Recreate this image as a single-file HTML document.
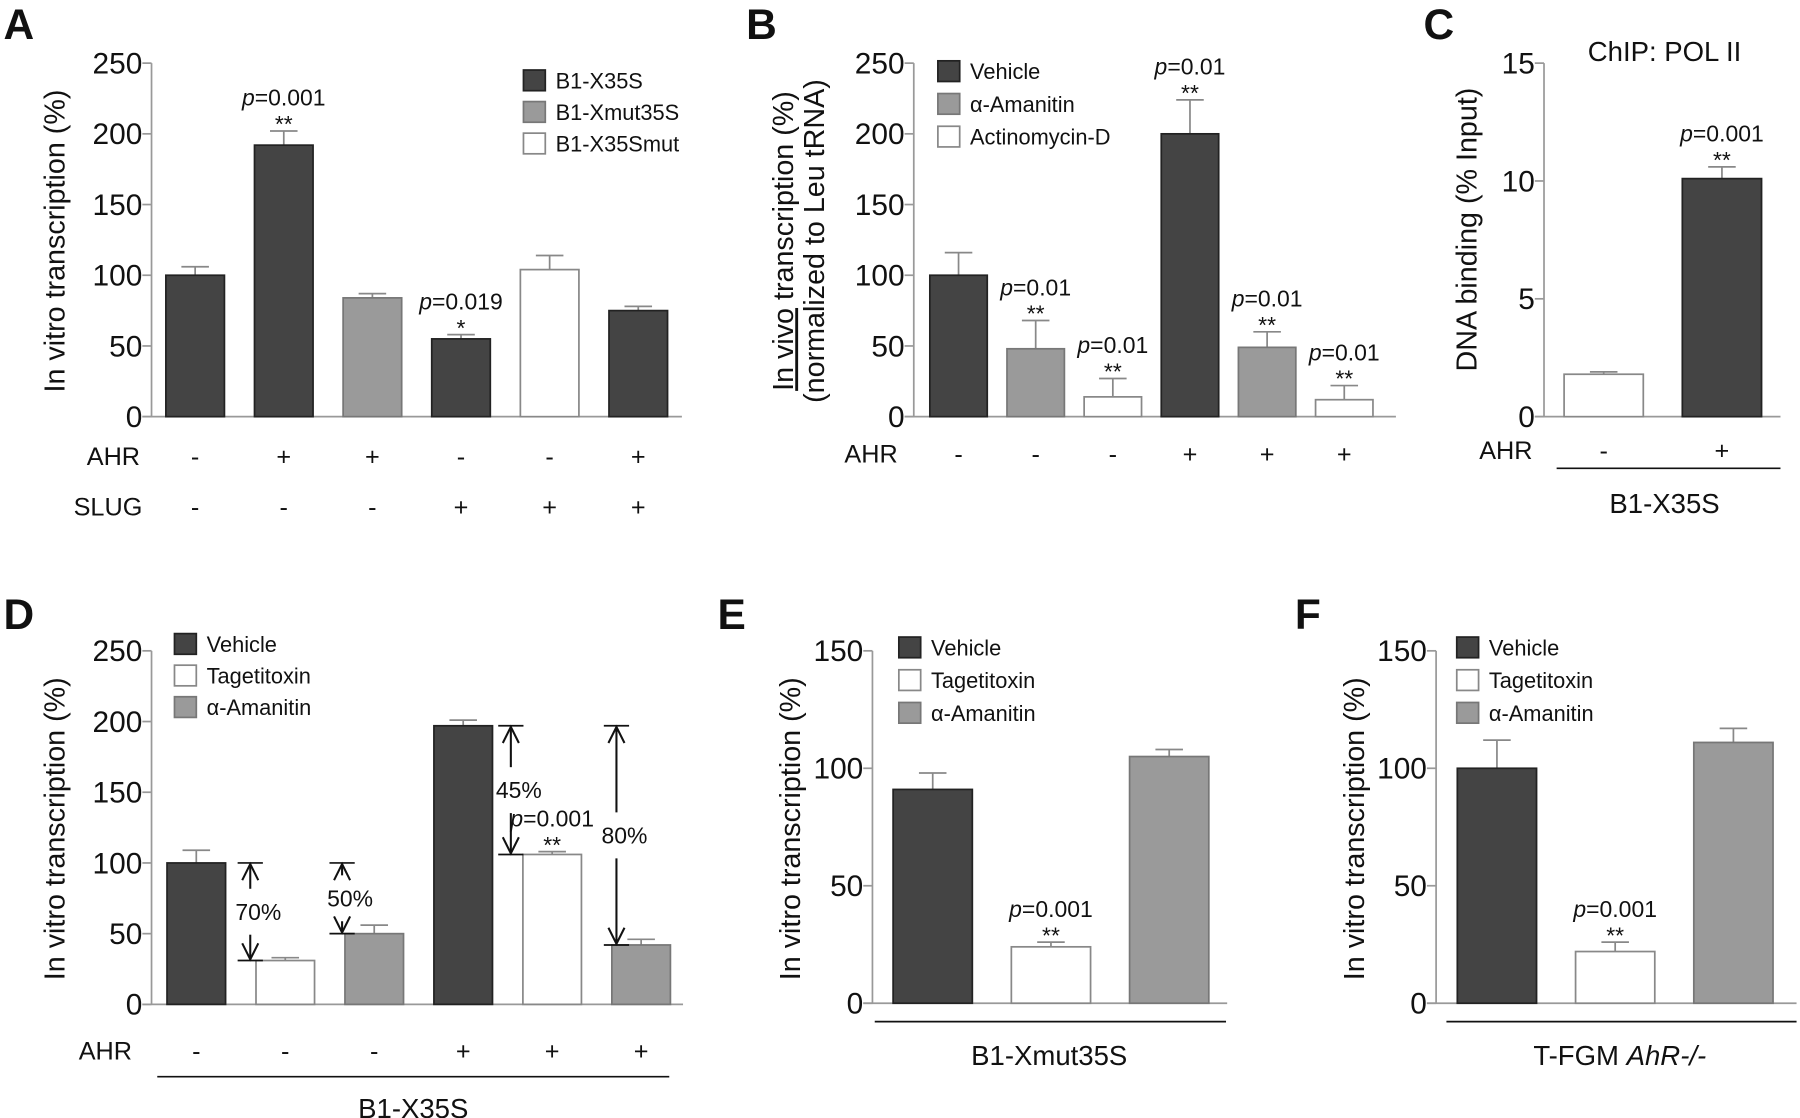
<!DOCTYPE html>
<html><head><meta charset="utf-8"><style>
html,body{margin:0;padding:0;background:#fff}
svg{display:block}
text{font-family:"Liberation Sans",Arial,sans-serif;fill:#111}
</style></head><body>
<svg id="fig" width="1800" height="1118" viewBox="0 0 1568 974" preserveAspectRatio="none" xmlns="http://www.w3.org/2000/svg"></svg>
<script>
// Panel A
const aVals=[100,192,84,55,104,75];
const aErr=[106,202,87,58,114,78];
const aCols=['d','d','g','d','w','d'];
const aAHR=['-','+','+','-','-','+'];
const aSLUG=['-','-','-','+','+','+'];
const aTicks=[0,50,100,150,200,250];
// Panel B
const bVals=[100,48,14,200,49,12];
const bErr=[116,68,27,224,60,22];
const bCols=['d','g','w','d','g','w'];
const bAHR=['-','-','-','+','+','+'];
const bTicks=[0,50,100,150,200,250];
// Panel C
const cVals=[1.8,10.1];
const cErr=[1.9,10.6];
const cCols=['w','d'];
const cAHR=['-','+'];
const cTicks=[0,5,10,15];
// Panel D
const dVals=[100,31,50,197,106,42];
const dErr=[109,33,56,201,108,46];
const dCols=['d','w','g','d','w','g'];
const dAHR=['-','-','-','+','+','+'];
const dTicks=[0,50,100,150,200,250];
// Panel E
const eVals=[91,24,105];
const eErr=[98,26,108];
const eCols=['d','w','g'];
const eTicks=[0,50,100,150];
// Panel F
const fVals=[100,22,111];
const fErr=[112,26,117];
const fCols=['d','w','g'];
const fTicks=[0,50,100,150];

const NS='http://www.w3.org/2000/svg';
const svg=document.getElementById('fig');
const FILL={d:'#444',g:'#9a9a9a',w:'#fff'};
const STROKE={d:'#222',g:'#777',w:'#888'};
function el(tag,attrs,parent){const e=document.createElementNS(NS,tag);for(const k in attrs)e.setAttribute(k,attrs[k]);(parent||svg).appendChild(e);return e;}
function txt(s,x,y,size,anchor,parent,extra){const t=el('text',Object.assign({x:x,y:y,'font-size':size,'text-anchor':anchor||'start'},extra||{}),parent);t.textContent=s;return t;}

function panel(p){
  const g=el('g',{});
  
  
  const sc=v=>p.y0-(v/p.vmax)*(p.y0-p.yTop);
  const ax=el('line',{x1:p.ax,y1:p.yTop,x2:p.ax,y2:p.y0,stroke:'#999','stroke-width':1.5},g);
  
  
  const xa=el('line',{x1:p.ax-8,y1:p.y0,x2:p.axEnd,y2:p.y0,stroke:'#999','stroke-width':1.5},g);
  
  
  p.ticks.forEach(t=>{
    const y=sc(t);
    el('line',{x1:p.ax-8,y1:y,x2:p.ax,y2:y,stroke:'#999','stroke-width':1.5},g);
    const tl=txt(String(t),p.ax-8,y+9,26,'end',g);
    
    
  });
  p.vals.forEach((v,i)=>{
    const cx=p.c0+i*p.sp, x=cx-p.bw/2, top=sc(v), et=sc(p.err[i]);
    const ew=el('line',{x1:cx,y1:top,x2:cx,y2:et,stroke:'#888','stroke-width':1.5},g);
    
    
    el('line',{x1:cx-12,y1:et,x2:cx+12,y2:et,stroke:'#888','stroke-width':1.5},g);
    const r=el('rect',{x:x,y:top,width:p.bw,height:p.y0-top,fill:FILL[p.cols[i]],stroke:STROKE[p.cols[i]],'stroke-width':1.5},g);
    
    
  });
  (p.sig||[]).forEach(s=>{
    const cx=p.c0+s[0]*p.sp, et=sc(p.err[s[0]]);
    const pt=el('text',{x:cx,y:et-22,'font-size':20,'text-anchor':'middle'},g);
    
    
    const it=el('tspan',{'font-style':'italic'},pt);it.textContent='p';
    const rt=el('tspan',{},pt);rt.textContent=s[1];
    const st=txt(s[2],cx,et+1,20,'middle',g);
    
    
  });
  (p.rows||[]).forEach(r=>{
    const lb=txt(r.label,r.lx,r.y,22,'end',g);
    
    
    r.vals.forEach((s,i)=>{const t=txt(s,p.c0+i*p.sp,r.y,22,'middle',g);
      
      });
  });
  if(p.legend){p.legend.items.forEach((it,i)=>{
    const y=p.legend.y+i*p.legend.dy;
    const b=el('rect',{x:p.legend.x,y:y-9,width:19,height:18,fill:FILL[it[0]],stroke:STROKE[it[0]],'stroke-width':1.5},g);
    
    
    const t=txt(it[1],p.legend.x+28,y+7,19,'start',g);
    
    
  });}
  return {g,sc};
}

function ytitle(lines,x,cy,size,name){
  lines.forEach((l,i)=>{
    const t=el('text',{x:0,y:0,'font-size':size,'text-anchor':'middle',transform:`translate(${x+i*(size+3)},${cy}) rotate(-90)`});
    
    
    t.textContent=l;
  });
}
function letter(s,x,y){const t=txt(s,x,y,37,'start',null,{'font-weight':'bold'});
  
  }
function hline(x1,x2,y,name){const l=el('line',{x1:x1,y1:y,x2:x2,y2:y,stroke:'#111','stroke-width':1.5});
  
  }
function caption(s,x,y,name){const t=txt(s,x,y,24,'middle');
  
  return t;}

// A
letter('A',3,34);
panel({name:'panel-a',ax:132,y0:363,yTop:55,vmax:250,ticks:aTicks,axEnd:594,c0:170,sp:77.2,bw:51,
  vals:aVals,err:aErr,cols:aCols,sig:[[1,'=0.001','**'],[3,'=0.019','*']],
  rows:[{label:'AHR',lx:122,y:405,vals:aAHR},{label:'SLUG',lx:124,y:449,vals:aSLUG}],
  legend:{x:456,y:70,dy:27.5,items:[['d','B1-X35S'],['g','B1-Xmut35S'],['w','B1-X35Smut']]}});
ytitle(['In vitro transcription (%)'],56,210,25,'y-axis-title');

// B
letter('B',650,34);
panel({name:'panel-b',ax:796,y0:363,yTop:55,vmax:250,ticks:bTicks,axEnd:1216,c0:835,sp:67.2,bw:50,
  vals:bVals,err:bErr,cols:bCols,sig:[[1,'=0.01','**'],[2,'=0.01','**'],[3,'=0.01','**'],[4,'=0.01','**'],[5,'=0.01','**']],
  rows:[{label:'AHR',lx:782,y:403,vals:bAHR}],
  legend:{x:817,y:62,dy:28.5,items:[['d','Vehicle'],['g','α-Amanitin'],['w','Actinomycin-D']]}});
(function(){const x=691,cy=210,size=25;
  const t=el('text',{x:0,y:0,'font-size':size,'text-anchor':'middle',transform:`translate(${x},${cy}) rotate(-90)`});
  
  
  const u=el('tspan',{'text-decoration':'underline'},t);u.textContent='In vivo';
  const r=el('tspan',{},t);r.textContent=' transcription (%)';
  const t2=el('text',{x:0,y:0,'font-size':size,'text-anchor':'middle',transform:`translate(${x+27},${cy}) rotate(-90)`});
  
  
  t2.textContent='(normalized to Leu tRNA)';
})();

// C
letter('C',1240,34);
panel({name:'panel-c',ax:1345,y0:363,yTop:55,vmax:15,ticks:cTicks,axEnd:1551,c0:1397,sp:103,bw:69,
  vals:cVals,err:cErr,cols:cCols,sig:[[1,'=0.001','**']],
  rows:[{label:'AHR',lx:1335,y:400,vals:cAHR}]});
caption('ChIP: POL II',1450,53,'chart-title');
ytitle(['DNA binding (% Input)'],1286,200,25,'y-axis-title');
hline(1356,1551,408,'group-line');
caption('B1-X35S',1450,447,'group-label');

// D
letter('D',3,548);
const D=panel({name:'panel-d',ax:132,y0:875,yTop:567,vmax:250,ticks:dTicks,axEnd:595,c0:171,sp:77.5,bw:51,
  vals:dVals,err:dErr,cols:dCols,sig:[[4,'=0.001','**']],
  rows:[{label:'AHR',lx:115,y:923,vals:dAHR}],
  legend:{x:152,y:561,dy:27.5,items:[['d','Vehicle'],['w','Tagetitoxin'],['g','α-Amanitin']]}});
ytitle(['In vitro transcription (%)'],56,722,25,'y-axis-title');
hline(137,583,938,'group-line');
caption('B1-X35S',360,974,'group-label');
// reduction arrows: [top value index, bottom value index, x, label]
const dArrows=[[0,1,218,'70%'],[0,2,298,'50%'],[3,4,445,'45%'],[3,5,537,'80%']];
dArrows.forEach(a=>{
  const yt=D.sc(dVals[a[0]]), yb=D.sc(dVals[a[1]]), x=a[2], mid=(yt+yb)/2;
  const g=el('g',{});
  
  
  el('line',{x1:x-11,y1:yt,x2:x+11,y2:yt,stroke:'#111','stroke-width':1.5},g);
  el('line',{x1:x-11,y1:yb,x2:x+11,y2:yb,stroke:'#111','stroke-width':1.5},g);
  el('line',{x1:x,y1:yt+1,x2:x,y2:mid-20,stroke:'#111','stroke-width':1.8},g);
  el('line',{x1:x,y1:mid+20,x2:x,y2:yb-1,stroke:'#111','stroke-width':1.8},g);
  el('polyline',{points:`${x-7},${yt+15} ${x},${yt+1} ${x+7},${yt+15}`,fill:'none',stroke:'#111','stroke-width':1.8},g);
  el('polyline',{points:`${x-7},${yb-15} ${x},${yb-1} ${x+7},${yb-15}`,fill:'none',stroke:'#111','stroke-width':1.8},g);
  const t=txt(a[3],x+7,mid+7,20,'middle',g);
  
  
});

// E
letter('E',625,548);
panel({name:'panel-e',ax:760,y0:874,yTop:567,vmax:150,ticks:eTicks,axEnd:1069,c0:812.5,sp:103,bw:69,
  vals:eVals,err:eErr,cols:eCols,sig:[[1,'=0.001','**']],
  legend:{x:783,y:564,dy:28.5,items:[['d','Vehicle'],['w','Tagetitoxin'],['g','α-Amanitin']]}});
ytitle(['In vitro transcription (%)'],697,722,25,'y-axis-title');
hline(762,1068,890,'group-line');
caption('B1-Xmut35S',914,928,'group-label');

// F
letter('F',1128,548);
panel({name:'panel-f',ax:1251,y0:874,yTop:567,vmax:150,ticks:fTicks,axEnd:1565,c0:1304,sp:103,bw:69,
  vals:fVals,err:fErr,cols:fCols,sig:[[1,'=0.001','**']],
  legend:{x:1269,y:564,dy:28.5,items:[['d','Vehicle'],['w','Tagetitoxin'],['g','α-Amanitin']]}});
ytitle(['In vitro transcription (%)'],1188,722,25,'y-axis-title');
hline(1260,1565,890,'group-line');
(function(){const t=el('text',{x:1411,y:928,'font-size':24,'text-anchor':'middle'});
  
  
  const a=el('tspan',{},t);a.textContent='T-FGM ';
  const b=el('tspan',{'font-style':'italic'},t);b.textContent='AhR-/-';})();
</script>
</body></html>
